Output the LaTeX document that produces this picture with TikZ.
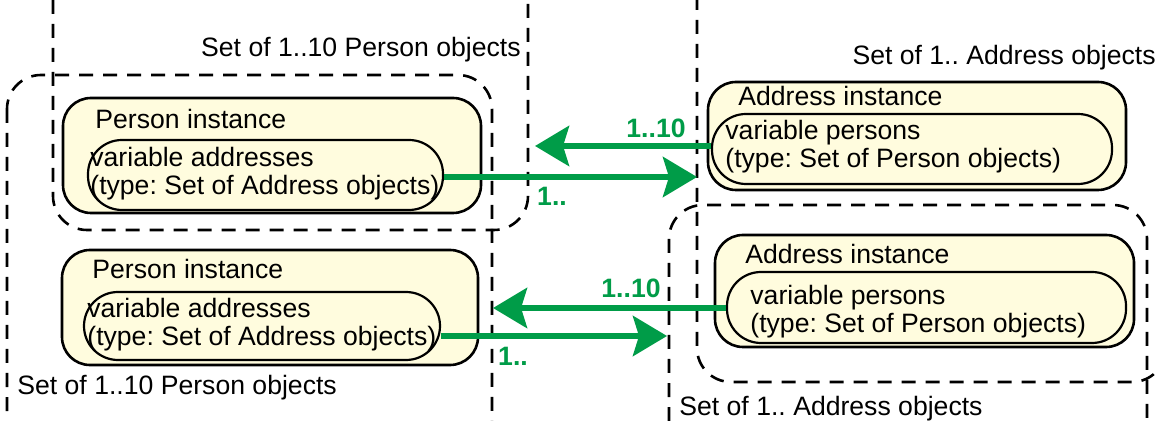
\documentclass[tikz,border=0pt]{standalone}
\usepackage{fontspec}
\setmainfont{Liberation Sans}
\usetikzlibrary{arrows.meta,fit}
\definecolor{boxfill}{RGB}{255,252,222}
\definecolor{linkgreen}{RGB}{0,156,72}
\frenchspacing
\begin{document}
\begin{tikzpicture}[x=0.5pt,y=-0.5pt,
  setline/.style={draw=black, line width=1.3pt, dash pattern=on 7pt off 5pt, rounded corners=17pt},
  outerbox/.style={draw=black, line width=1.3pt, fill=boxfill, rounded corners=14pt, inner sep=0pt},
  innerbox/.style={draw=black, line width=1.1pt, fill=boxfill, rounded corners=17pt, inner sep=0pt},
  txt/.style={font=\fontsize{13.3}{14}\selectfont, inner sep=0pt, align=left},
  mult/.style={font=\fontsize{13.3}{14}\selectfont\bfseries, text=linkgreen, inner sep=0pt},
  link/.style={draw=linkgreen, line width=3pt, -{Stealth[length=17pt,width=20pt,inset=3pt]}}
]
\useasboundingbox (0,0) rectangle (1159,421);
\fill[white] (0,0) rectangle (1159,421);
\clip (0,0) rectangle (1159,421);

% dashed set outlines (partly running off the page)
\path[setline, dash phase=1pt] (53,-80) rectangle (528,230);
\path[setline] (7,75) rectangle (492,500);
\path[setline, dash phase=3pt] (697,-80) rectangle (1166,382);
\path[setline] (669,205) rectangle (1147,500);

\node[txt, anchor=base east] (set1) at (521,57) {Set of 1..10 Person objects};
\node[txt, anchor=base west] (set2) at (17,394) {Set of 1..10 Person objects};
\node[txt, anchor=base east] (set3) at (1156,65) {Set of 1.. Address objects};
\node[txt, anchor=base west] (set4) at (679,415) {Set of 1.. Address objects};

% upper Person instance
\node[outerbox, fit={(63,98) (481,213)}] (p1) {};
\node[txt, anchor=base west] (p1t) at (95,129) {Person instance};
\node[innerbox, fit={(88,140) (443,210)}] (pi1) {};
\node[txt, anchor=west] (pi1t) at (90,174) {variable addresses\\(type: Set of Address objects)};

% lower Person instance
\node[outerbox, fit={(62,250) (478,365)}] (p2) {};
\node[txt, anchor=base west] (p2t) at (92,279) {Person instance};
\node[innerbox, fit={(84,292) (440,360)}] (pi2) {};
\node[txt, anchor=west] (pi2t) at (87,325) {variable addresses\\(type: Set of Address objects)};

% upper Address instance
\node[outerbox, fit={(708,82) (1126,190)}] (a1) {};
\node[txt, anchor=base west] (a1t) at (738,106) {Address instance};
\node[innerbox, fit={(712,114) (1112,184)}] (ai1) {};
\node[txt, anchor=west] (ai1t) at (725,147) {variable persons\\(type: Set of Person objects)};

% lower Address instance
\node[outerbox, fit={(715,235) (1134,347)}] (a2) {};
\node[txt, anchor=base west] (a2t) at (745,264) {Address instance};
\node[innerbox, fit={(727,272) (1126,343)}] (ai2) {};
\node[txt, anchor=west] (ai2t) at (750,312) {variable persons\\(type: Set of Person objects)};

% references between the instances
\coordinate (t1) at (535,146);
\coordinate (t2) at (697,177);
\coordinate (t3) at (493,308);
\coordinate (t4) at (667,336);
\draw[link] (ai1.west |- t1) -- (t1);
\draw[link] (pi1.east |- t2) -- (t2);
\draw[link] (ai2.west |- t3) -- (t3);
\draw[link] (pi2.east |- t4) -- (t4);

\node[mult] (m1) at (656,128) {1..10};
\node[mult] (m2) at (552,196) {1..};
\node[mult] (m3) at (631,288) {1..10};
\node[mult] (m4) at (513,356) {1..};
\end{tikzpicture}
\end{document}
